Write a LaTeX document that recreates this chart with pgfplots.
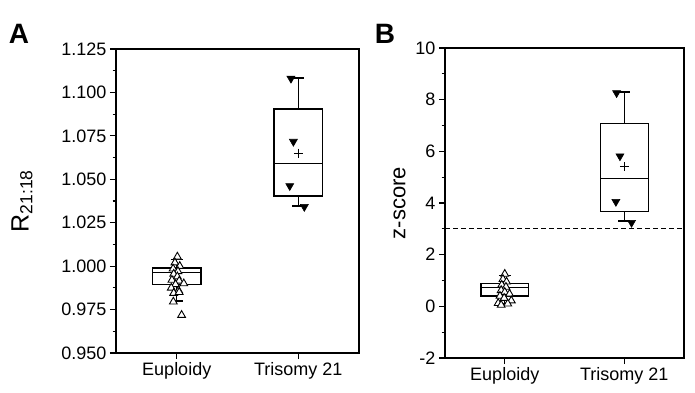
\documentclass[border=0pt]{standalone}
\usepackage{fontspec}
\setmainfont{Liberation Sans}
\usepackage{pgfplots}
\pgfplotsset{compat=1.18}
\usepgfplotslibrary{statistics}
\begin{document}
\begin{tikzpicture}
\useasboundingbox (0,0) rectangle (695pt,392pt);
\pgfplotsset{
 mystyle/.style={
  scale only axis, anchor=south west,
  xmin=0.5, xmax=2.5, xtick={1,2}, xticklabels={Euploidy, Trisomy 21},
  tick align=outside, xtick pos=left, ytick pos=left,
  major tick length=6pt, minor tick length=3.5pt,
  minor y tick num=1,
  axis line style={line width=1.2pt},
  major tick style={line width=1.2pt, black},
  minor tick style={line width=1.2pt, black},
  ticklabel style={font=\fontsize{18}{20}\selectfont},
  /pgf/number format/assume math mode=true,
  clip=false,
  boxplot/draw direction=y,
  boxplot/every box/.style={draw=black, line width=1.3pt},
  boxplot/every median/.style={draw=black, line width=1.3pt},
  boxplot/every whisker/.style={draw=black, line width=1.3pt},
  boxplot/every average/.style={/tikz/mark=+, /tikz/mark size=4.5pt, /tikz/mark options={draw=black!60, line width=0.7pt}},
 },
 eup/.style={only marks, mark=triangle*, mark size=4.5pt, mark options={fill=white, draw=black, line width=0.9pt}},
 tri/.style={only marks, mark=triangle*, mark size=4.6pt, mark options={rotate=180, fill=black, draw=black, line width=0.6pt}},
}
% Panel A
\begin{axis}[mystyle, at={(116pt,39pt)}, width=243pt, height=304pt,
  ymin=0.95, ymax=1.125, ytick={0.95,0.975,...,1.126},
  yticklabel style={/pgf/number format/.cd, fixed, fixed zerofill, precision=3},
  ylabel={R\textsubscript{21:18}},
  ylabel style={font=\fontsize{25}{28}\selectfont, at={(axis description cs:-0.387,0.5)}, anchor=center},
]
\addplot[black, line width=1.3pt, boxplot prepared={draw position=1, box extend=0.4, median=0.9963, upper quartile=0.999, lower quartile=0.9894, upper whisker=1.004, lower whisker=0.980, whisker extend=0.1}] coordinates {};
\addplot[black, line width=1.3pt, boxplot prepared={draw position=2, box extend=0.4, median=1.0592, upper quartile=1.0904, lower quartile=1.0404, upper whisker=1.1083, lower whisker=1.0346, whisker extend=0.1, average=1.065}] coordinates {};
\addplot[eup] coordinates {
(1.005,1.0054) (0.985,1.0020) (1.025,1.0000) (0.970,0.9985) (1.010,0.9970)
(0.975,0.9955) (1.005,0.9940) (0.960,0.9920) (1.020,0.9915) (1.058,0.9900)
(0.990,0.9895) (0.955,0.9875) (1.015,0.9860) (0.975,0.9845) (1.020,0.9850)
(0.972,0.9795) (1.040,0.9718)};
\addplot[tri] coordinates {(1.94,1.108) (1.96,1.0717) (1.93,1.0462) (2.05,1.0342)};
\end{axis}
% Panel B
\begin{axis}[mystyle, at={(445pt,34pt)}, width=239pt, height=310pt,
  ymin=-2, ymax=10, ytick={-2,0,...,10},
  ylabel={z-score},
  ylabel style={font=\fontsize{22}{25}\selectfont, at={(axis description cs:-0.19,0.5)}, anchor=center},
]
\addplot[black, line width=1.2pt, dash pattern=on 5pt off 3pt] coordinates {(0.5,3) (2.5,3)};
\addplot[black, line width=1.3pt, boxplot prepared={draw position=1, box extend=0.4, median=0.742, upper quartile=0.884, lower quartile=0.395, upper whisker=1.2, lower whisker=0.1, whisker extend=0.1}] coordinates {};
\addplot[black, line width=1.3pt, boxplot prepared={draw position=2, box extend=0.4, median=4.952, upper quartile=7.064, lower quartile=3.678, upper whisker=8.30, lower whisker=3.305, whisker extend=0.1, average=5.403}] coordinates {};
\addplot[eup] coordinates {
(1.000,1.25) (0.985,1.05) (1.015,0.95) (0.975,0.83) (1.010,0.75)
(0.970,0.62) (1.000,0.55) (1.040,0.48) (0.960,0.40) (0.995,0.32)
(1.055,0.22) (0.945,0.12) (1.025,0.10) (0.970,0.05)};
\addplot[tri] coordinates {(1.936,8.26) (1.964,5.815) (1.93,4.05) (2.061,3.24)};
\end{axis}
\node[font=\bfseries\fontsize{28}{30}\selectfont] at (19pt,358pt) {A};
\node[font=\bfseries\fontsize{28}{30}\selectfont] at (385pt,358pt) {B};
\end{tikzpicture}
\end{document}
